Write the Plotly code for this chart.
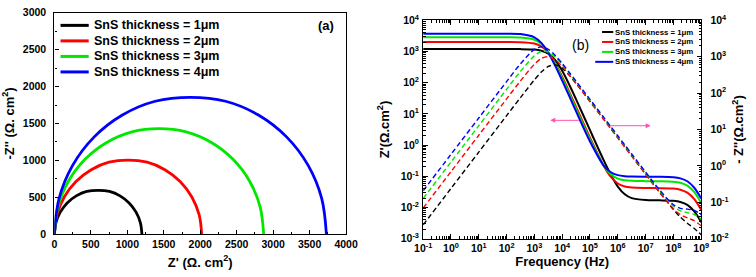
import plotly.graph_objects as go

# ---------------- data ----------------
series_names = ["SnS thickness = 1μm", "SnS thickness = 2μm",
                "SnS thickness = 3μm", "SnS thickness = 4μm"]

# Nyquist (panel a): Z' and -Z'' in ohm.cm2
nyq_x_1um = [0, 20.4, 80.4, 175.7, 300, 444.7, 600, 755.3, 900, 1024.3, 1119.6, 1179.6, 1200]
nyq_y_1um = [0, 155.3, 300, 424.3, 519.6, 579.6, 595, 579.6, 519.6, 424.3, 300, 155.3, 0]
nyq_x_2um = [0, 34.4, 135.3, 295.8, 505, 748.6, 1010, 1271.4, 1515, 1724.2, 1884.7, 1985.6, 2020]
nyq_y_2um = [0, 261.4, 505, 714.2, 874.7, 975.6, 1005, 975.6, 874.7, 714.2, 505, 261.4, 0]
nyq_x_3um = [0, 48.9, 192.3, 420.3, 717.5, 1063.6, 1435, 1806.4, 2152.5, 2449.7, 2677.7, 2821.1, 2870]
nyq_y_3um = [0, 371.4, 717.5, 1014.7, 1242.7, 1386.1, 1430, 1386.1, 1242.7, 1014.7, 717.5, 371.4, 0]
nyq_x_4um = [0, 63.6, 249.9, 546.3, 932.5, 1382.3, 1865, 2347.7, 2797.5, 3183.7, 3480.1, 3666.4, 3730]
nyq_y_4um = [0, 482.7, 932.5, 1318.7, 1615.2, 1801.4, 1855, 1801.4, 1615.2, 1318.7, 932.5, 482.7, 0]

nyq_xticks = [0, 500, 1000, 1500, 2000, 2500, 3000, 3500, 4000]
nyq_yticks = [0, 500, 1000, 1500, 2000, 2500, 3000]

# Bode (panel b)
freq_hz = [0.1, 1, 10, 100, 316.2, 1000, 1778, 3162, 5623, 1e4, 17783, 31623, 1e5,
           3.162e5, 5.623e5, 1e6, 1.778e6, 3.162e6, 1e7, 3.162e7, 1e8, 1.778e8,
           3.162e8, 5.623e8, 1e9]

zre_1um = [1200, 1200, 1200, 1200, 1195, 1154, 1065, 857, 530, 240, 87.9, 29.3, 3.01,
           0.317, 0.112, 0.047, 0.0265, 0.020, 0.0173, 0.0170, 0.0164, 0.0151, 0.0122, 0.0075, 0.0034]
zre_2um = [2020, 2020, 2020, 2018, 1996, 1805, 1467, 922, 424, 156, 52.2, 16.8, 1.74,
           0.212, 0.0956, 0.059, 0.0474, 0.0437, 0.0422, 0.0418, 0.0404, 0.0373, 0.0300, 0.0186, 0.0084]
zre_3um = [2870, 2870, 2870, 2864, 2814, 2396, 1766, 964, 396, 138, 45.2, 14.4, 1.52,
           0.215, 0.116, 0.0845, 0.0746, 0.0715, 0.0701, 0.0697, 0.0673, 0.0622, 0.0501, 0.0310, 0.0141]
zre_4um = [3730, 3730, 3730, 3718, 3618, 2850, 1887, 912, 346, 117, 37.8, 12.0, 1.31,
           0.218, 0.135, 0.109, 0.1008, 0.0982, 0.097, 0.0966, 0.0933, 0.0861, 0.0694, 0.0430, 0.0195]

zim_1um = [0.024, 0.24, 2.4, 24.0, 75.5, 230.8, 378.9, 542, 595.8, 480, 312.7, 185, 59.85,
           18.97, 10.67, 6.0, 3.374, 1.897, 0.600, 0.191, 0.0633, 0.0391, 0.0267, 0.0191, 0.0128]
zim_2um = [0.0697, 0.697, 6.97, 69.6, 217.8, 623, 900.6, 1006, 822.5, 540, 320.7, 183.5, 58.48,
           18.51, 10.41, 5.853, 3.292, 1.851, 0.586, 0.1878, 0.0666, 0.0461, 0.0374, 0.0313, 0.0227]
zim_3um = [0.1276, 1.276, 12.76, 127.4, 395.7, 1065, 1396, 1355, 989.7, 614.4, 357.3, 203.1, 64.5,
           20.41, 11.48, 6.455, 3.630, 2.041, 0.647, 0.2085, 0.078, 0.0584, 0.052, 0.0463, 0.0345]
zim_4um = [0.208, 2.08, 20.8, 207.4, 637.8, 1588, 1870, 1607, 1085, 651.8, 374.5, 212.1, 67.26,
           21.27, 11.96, 6.728, 3.783, 2.128, 0.675, 0.219, 0.0859, 0.0684, 0.065, 0.0602, 0.0455]

freq_tickvals = [0.1, 1, 10, 100, 1e3, 1e4, 1e5, 1e6, 1e7, 1e8, 1e9]
freq_ticktext = ["10<sup>-1</sup>", "10<sup>0</sup>", "10<sup>1</sup>", "10<sup>2</sup>",
                 "10<sup>3</sup>", "10<sup>4</sup>", "10<sup>5</sup>", "10<sup>6</sup>",
                 "10<sup>7</sup>", "10<sup>8</sup>", "10<sup>9</sup>"]
zre_tickvals = [1e-3, 1e-2, 0.1, 1, 10, 100, 1e3, 1e4]
zre_ticktext = ["10<sup>-3</sup>", "10<sup>-2</sup>", "10<sup>-1</sup>", "10<sup>0</sup>",
                "10<sup>1</sup>", "10<sup>2</sup>", "10<sup>3</sup>", "10<sup>4</sup>"]
zim_tickvals = [1e-2, 0.1, 1, 10, 100, 1e3, 1e4]
zim_ticktext = ["10<sup>-2</sup>", "10<sup>-1</sup>", "10<sup>0</sup>", "10<sup>1</sup>",
                "10<sup>2</sup>", "10<sup>3</sup>", "10<sup>4</sup>"]

# ---------------- style ----------------
W, H = 756, 277
colors = ["#000000", "#FF0000", "#00E800", "#0000FF"]
FONT = "Liberation Sans, Arial, sans-serif"


def px(x):
    return x / W


def py(y):
    return 1 - y / H


fig = go.Figure()

nyq = [(nyq_x_1um, nyq_y_1um), (nyq_x_2um, nyq_y_2um), (nyq_x_3um, nyq_y_3um), (nyq_x_4um, nyq_y_4um)]
for name, c, (xs, ys) in zip(series_names, colors, nyq):
    fig.add_trace(go.Scatter(x=xs, y=ys, mode="lines", name=name, showlegend=False,
                             line=dict(color=c, width=2.8, shape="spline", smoothing=1.0),
                             xaxis="x", yaxis="y"))

for name, c, ys in zip(series_names, colors, [zre_1um, zre_2um, zre_3um, zre_4um]):
    fig.add_trace(go.Scatter(x=freq_hz, y=ys, mode="lines", name=name + " Z'", showlegend=False,
                             line=dict(color=c, width=2.0, shape="spline", smoothing=0.8),
                             xaxis="x2", yaxis="y2"))
for name, c, ys in zip(series_names, colors, [zim_1um, zim_2um, zim_3um, zim_4um]):
    fig.add_trace(go.Scatter(x=freq_hz, y=ys, mode="lines", name=name + " -Z''", showlegend=False,
                             line=dict(color=c, width=1.4, dash="5px,3px", shape="spline", smoothing=0.8),
                             xaxis="x2", yaxis="y3"))

axis_common = dict(showline=True, linecolor="black", linewidth=1.2, showgrid=False, zeroline=False,
                   ticks="inside", tickcolor="black", tickwidth=1.1)

fig.update_layout(
    width=W, height=H, margin=dict(l=0, r=0, t=0, b=0),
    paper_bgcolor="white", plot_bgcolor="white", showlegend=False,
    font=dict(family=FONT, color="black"),
    xaxis=dict(**axis_common, domain=[px(46.7), px(346.7)], range=[0, 4000], anchor="y",
               mirror=True, tickmode="array", tickvals=nyq_xticks,
               ticktext=[str(v) for v in nyq_xticks], ticklen=4,
               tickfont=dict(family=FONT, size=10.5, weight="bold"),
               minor=dict(tickmode="linear", tick0=0, dtick=250, ticks="inside", ticklen=2.5,
                          tickcolor="black", tickwidth=1, showgrid=False),
               title=dict(text="Z' (Ω. cm<sup>2</sup>)", standoff=8,
                          font=dict(family=FONT, size=13, weight="bold"))),
    yaxis=dict(**axis_common, domain=[py(238.3), py(5)], range=[0, 3000], anchor="x",
               mirror=True, tickmode="array", tickvals=nyq_yticks,
               ticktext=[str(v) for v in nyq_yticks], ticklen=4, ticklabelstandoff=5,
               tickfont=dict(family=FONT, size=10.5, weight="bold"),
               minor=dict(tickmode="linear", tick0=0, dtick=250, ticks="inside", ticklen=2.5,
                          tickcolor="black", tickwidth=1, showgrid=False),
               title=dict(text="-Z'' (Ω. cm<sup>2</sup>)", standoff=5,
                          font=dict(family=FONT, size=13, weight="bold"))),
    xaxis2=dict(**axis_common, domain=[px(426), px(712)], type="log", range=[-1, 9], anchor="y2",
                mirror="ticks", tickmode="array", tickvals=freq_tickvals, ticktext=freq_ticktext,
                ticklen=4.5, tickfont=dict(family=FONT, size=10.5, weight="bold"),
                minor=dict(dtick="D1", ticks="inside", ticklen=2.5, tickcolor="black",
                           tickwidth=1, showgrid=False),
                title=dict(text="Frequency (Hz)", standoff=2,
                           font=dict(family=FONT, size=13, weight="bold"))),
    yaxis2=dict(**axis_common, domain=[py(243), py(13)], type="log", range=[-3, 4], anchor="x2",
                tickmode="array", tickvals=zre_tickvals, ticktext=zre_ticktext, ticklen=4.5,
                ticklabelstandoff=1,
                tickfont=dict(family=FONT, size=10.5, weight="bold"),
                minor=dict(dtick="D1", ticks="inside", ticklen=2.5, tickcolor="black",
                           tickwidth=1, showgrid=False),
                title=dict(text="Z'(Ω.cm<sup>2</sup>)", standoff=8,
                           font=dict(family=FONT, size=13, weight="bold"))),
    yaxis3=dict(**axis_common, overlaying="y2", side="right", type="log", range=[-2, 4], anchor="x2",
                tickmode="array", tickvals=zim_tickvals, ticktext=zim_ticktext, ticklen=4.5,
                ticklabelstandoff=6,
                tickfont=dict(family=FONT, size=10.5, weight="bold"),
                minor=dict(dtick="D1", ticks="inside", ticklen=2.5, tickcolor="black",
                           tickwidth=1, showgrid=False),
                title=dict(text="- Z''(Ω.cm<sup>2</sup>)", standoff=6,
                           font=dict(family=FONT, size=13, weight="bold"))),
)

# ---------------- legends (drawn as shapes + text) ----------------
for i, (name, c) in enumerate(zip(series_names, colors)):
    yrow = 18.3 + i * 16.35
    fig.add_shape(type="line", xref="paper", yref="paper", x0=px(53), x1=px(82),
                  y0=py(yrow), y1=py(yrow), line=dict(color=c, width=3))
    fig.add_annotation(xref="paper", yref="paper", x=px(85.5), y=py(yrow), text=name,
                       showarrow=False, xanchor="left", yanchor="middle",
                       font=dict(family=FONT, size=12.5, weight="bold", color="black"))
for i, (name, c) in enumerate(zip(series_names, colors)):
    yrow = 25.3 + i * 10.47
    x0 = 603 if i == 3 else 610
    fig.add_shape(type="line", xref="paper", yref="paper", x0=px(x0), x1=px(621.5),
                  y0=py(yrow), y1=py(yrow), line=dict(color=c, width=2))
    fig.add_annotation(xref="paper", yref="paper", x=px(621.5), y=py(yrow), text=name,
                       showarrow=False, xanchor="left", yanchor="middle",
                       font=dict(family=FONT, size=7.8, weight="bold", color="black"))

# panel labels
fig.add_annotation(xref="paper", yref="paper", x=px(326), y=py(18), text="(a)", showarrow=False,
                   xanchor="center", yanchor="middle",
                   font=dict(family=FONT, size=13, weight="bold", color="black"))
fig.add_annotation(xref="paper", yref="paper", x=px(587.5), y=py(39), text="(b)", showarrow=False,
                   xanchor="center", yanchor="middle",
                   font=dict(family=FONT, size=14, color="black"))

# pink arrows indicating the axes
fig.add_annotation(xref="paper", yref="paper", x=px(556.7), y=py(118.3), ax=30, ay=0,
                   text="", showarrow=True, arrowhead=2, arrowsize=1, arrowwidth=1,
                   arrowcolor="#FF50B4")
fig.add_annotation(xref="paper", yref="paper", x=px(660), y=py(124), ax=-42, ay=0,
                   text="", showarrow=True, arrowhead=2, arrowsize=1, arrowwidth=1,
                   arrowcolor="#FF50B4")

fig.write_html("out.html")
